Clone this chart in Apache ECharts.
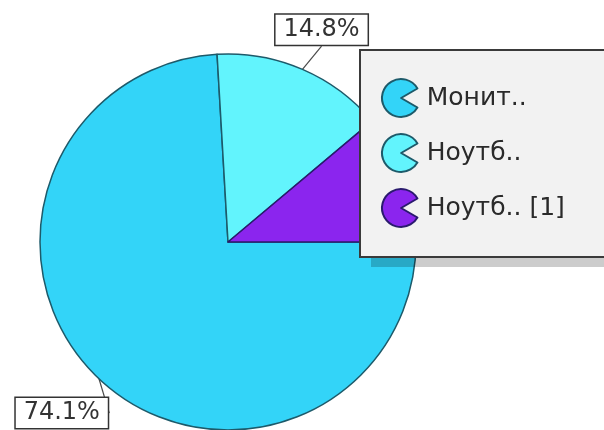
<!DOCTYPE html>
<html>
<head>
<meta charset="utf-8">
<script src="https://cdn.jsdelivr.net/npm/echarts@6/dist/echarts.min.js"></script>
<style>html,body{margin:0;padding:0;background:#fff;}#c{width:604px;height:430px;}</style>
</head>
<body>
<div id="c"></div>
<script>
var categories = ['Монит..', 'Ноутб..', 'Ноутб.. [1]'];
var values = [20, 4, 3];
var fillColors = ['#33d4f8', '#62f4fd', '#8b25ee'];
var borderColors = ['#1d5a6a', '#1d5a6a', '#2a1a6e'];

var chart = echarts.init(document.getElementById('c'), null, {renderer: 'canvas'});
var pac = 'path://M50,50 L93,25 A50,50 0 1 0 93,75 Z';
var data = categories.map(function (n, i) {
  return {name: n, value: values[i], itemStyle: {color: fillColors[i], borderColor: borderColors[i], borderWidth: 1.5}};
});
var CY = 242;
chart.setOption({
  animation: false,
  backgroundColor: '#ffffff',
  graphic: [{
    type: 'rect', z: 3, silent: true,
    shape: {x: 371, y: 61, width: 260, height: 206},
    style: {fill: 'rgba(0,0,0,0.2)'}
  }],
  legend: {
    orient: 'vertical', left: 360, top: 50,
    padding: [28, 120, 29, 21],
    itemWidth: 36, itemHeight: 38, itemGap: 15,
    icon: pac,
    selectedMode: false,
    z: 5,
    backgroundColor: '#f2f2f2', borderColor: '#3a3a3a', borderWidth: 2,
    textStyle: {fontFamily: 'DejaVu Sans', fontSize: 25, color: '#2a2a2a', padding: [0, 0, 0, 4]},
    data: categories
  },
  series: [{
    type: 'pie',
    center: [228, CY],
    radius: 188,
    startAngle: 0,
    clockwise: true,
    percentPrecision: 1,
    data: data,
    label: {
      show: true, position: 'outside',
      formatter: function (p) { return p.percent.toFixed(1) + '%'; },
      fontFamily: 'DejaVu Sans', fontSize: 24, color: '#333', lineHeight: 24,
      width: 80, overflow: 'none', align: 'center',
      backgroundColor: '#fff', borderColor: '#333', borderWidth: 1.5, padding: [3, 6, 3, 6]
    },
    labelLine: {show: true, length: 28, length2: 0, lineStyle: {color: '#4a4a4a', width: 1.2}},
    labelLayout: function (p) {
      var pts = p.labelLinePoints;
      if (!pts) return {};
      var e = pts[pts.length - 1];
      var left = e[0] < 228;
      var top = e[1] < CY;
      return {x: left ? e[0] - 18 : e[0] + 8, y: top ? e[1] + 1 : e[1] - 1, align: 'center', verticalAlign: top ? 'bottom' : 'top'};
    },
    emphasis: {disabled: true}
  }]
});
</script>
</body>
</html>
